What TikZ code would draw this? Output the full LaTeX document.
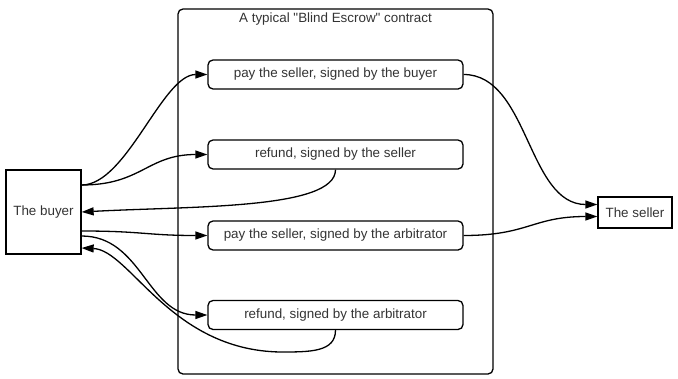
\documentclass[tikz,border=0pt]{standalone}
\usepackage{fontspec}
\setmainfont{Liberation Sans}[Ligatures=TeXOff]
\usetikzlibrary{arrows.meta,calc}
\definecolor{txt}{HTML}{333333}
\begin{document}
\begin{tikzpicture}[x=1pt,y=-1pt,
  every node/.style={font=\fontsize{13.4}{15}\selectfont, text=txt},
  action/.style={draw, line width=1.3pt, rounded corners=5pt, minimum width=255pt, minimum height=29pt, inner sep=0pt},
  party/.style={draw, line width=1.3pt, inner sep=0pt},
  frame/.style={draw, line width=1.3pt, rounded corners=5pt, minimum width=315pt, minimum height=365pt, inner sep=0pt},
  conn/.style={line width=1.3pt, -{Triangle[length=12pt,width=8pt]}}]
\useasboundingbox (0,0) rectangle (678,378);
\node[frame] (box) at (335.5,191.5) {};
\node (title) at (335.5,19) {A typical "Blind Escrow" contract};
\node[action] (a1) at (335.5,74.5) {pay the seller, signed by the buyer};
\node[action] (a2) at (335.5,154.5) {refund, signed by the seller};
\node[action] (a3) at (335.5,235.5) {pay the seller, signed by the arbitrator};
\node[action] (a4) at (335.5,315) {refund, signed by the arbitrator};
\node[party, minimum width=75pt, minimum height=84pt] (buyer) at (43.5,212) {The buyer};
\node[party, minimum width=74pt, minimum height=31pt] (seller) at (635,212.5) {The seller};
% buyer -> actions
\draw[conn] ($(buyer.east)+(0,-27)$) .. controls +(45,0) and +(-45,0) .. (a1.west);
\draw[conn] ($(buyer.east)+(0,-27)$) .. controls +(60,0) and +(-60,0) .. (a2.west);
\draw[conn] ($(buyer.east)+(0,19)$) .. controls +(60,0) and +(-60,0) .. (a3.west);
\draw[conn] ($(buyer.east)+(0,24)$) .. controls +(60,0) and +(-60,0) .. (a4.west);
% refunds -> buyer
\draw[conn] (a2.south) .. controls +(0,40) and +(110,-6) .. (buyer.east);
\draw[conn] (a4.south) .. controls +(0,22) and +(30,0) .. (280,352) .. controls (170,350) and (130,250) .. ($(buyer.east)+(0,36)$);
% pay -> seller
\draw[conn] (a1.east) .. controls +(65,0) and +(-70,0) .. ($(seller.west)+(0,-8)$);
\draw[conn] (a3.east) .. controls +(65,0) and +(-65,0) .. ($(seller.west)+(0,4)$);
\end{tikzpicture}
\end{document}
